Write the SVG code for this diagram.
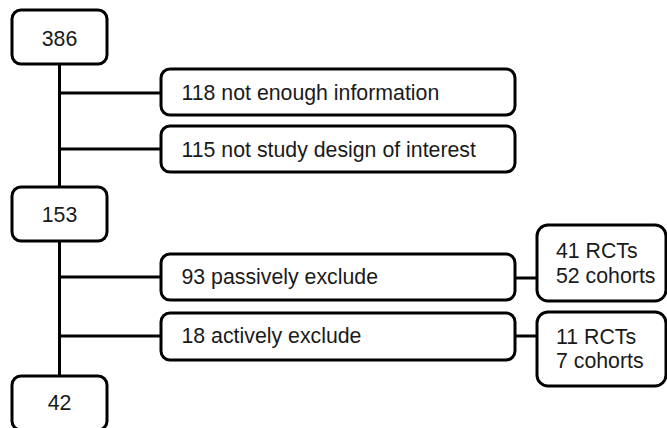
<svg xmlns="http://www.w3.org/2000/svg" width="667" height="428" viewBox="0 0 667 428">
<style>
.box{fill:#fff;stroke:#000;stroke-width:3}
.t{font-family:"Liberation Sans",Arial,sans-serif;font-size:21.3px;fill:#1a1a1a}
.c{stroke:#000;stroke-width:3;fill:none}
</style>
<rect width="667" height="428" fill="#fff"/>
<g id="connectors">
<line class="c" x1="59.5" y1="64" x2="59.5" y2="187"/>
<line class="c" x1="59.5" y1="241" x2="59.5" y2="376"/>
<line class="c" x1="59.5" y1="93" x2="161" y2="93"/>
<line class="c" x1="59.5" y1="149" x2="161" y2="149"/>
<line class="c" x1="59.5" y1="277" x2="161" y2="277"/>
<line class="c" x1="59.5" y1="336" x2="161" y2="336"/>
<line class="c" x1="515" y1="278" x2="537" y2="278"/>
<line class="c" x1="515" y1="336" x2="537" y2="336"/>
</g>
<g id="n386"><rect class="box" x="12" y="10" width="95" height="54" rx="9"/><text class="t" x="59.5" y="45.5" text-anchor="middle">386</text></g>
<g id="n118"><rect class="box" x="161" y="69" width="354" height="46" rx="9"/><text class="t" x="181.5" y="99.5">118 not enough information</text></g>
<g id="n115"><rect class="box" x="161" y="126" width="354" height="46" rx="9"/><text class="t" x="181.5" y="156.5">115 not study design of interest</text></g>
<g id="n153"><rect class="box" x="12" y="187" width="95" height="54" rx="9"/><text class="t" x="59.5" y="221.5" text-anchor="middle">153</text></g>
<g id="n93"><rect class="box" x="161" y="254" width="354" height="46" rx="9"/><text class="t" x="181.5" y="284">93 passively exclude</text></g>
<g id="n18"><rect class="box" x="161" y="313" width="354" height="47" rx="9"/><text class="t" x="181.5" y="343">18 actively exclude</text></g>
<g id="n42"><rect class="box" x="12" y="376" width="95" height="54" rx="9"/><text class="t" x="59.5" y="410" text-anchor="middle">42</text></g>
<g id="nr1"><rect class="box" x="537" y="225" width="129" height="76" rx="11"/><text class="t" x="556" y="258.3">41 RCTs</text><text class="t" x="556" y="283.3">52 cohorts</text></g>
<g id="nr2"><rect class="box" x="537" y="312" width="129" height="74" rx="11"/><text class="t" x="556" y="344">11 RCTs</text><text class="t" x="556" y="368.3">7 cohorts</text></g>
</svg>
